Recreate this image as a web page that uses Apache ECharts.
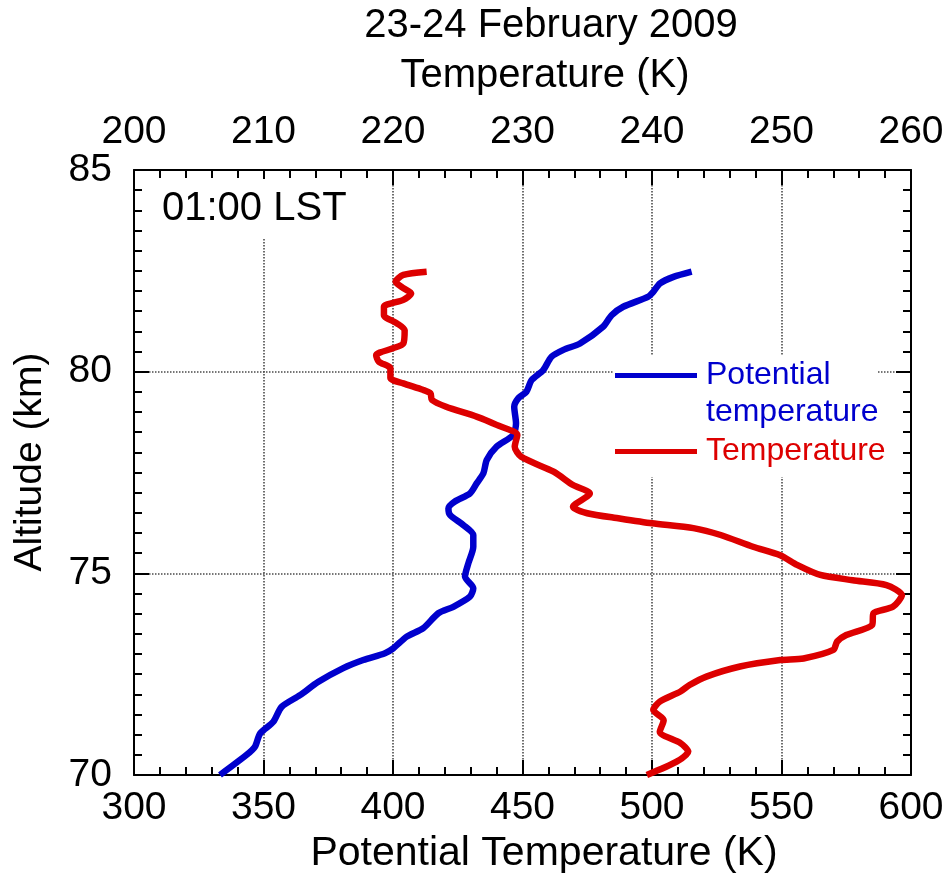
<!DOCTYPE html>
<html>
<head>
<meta charset="utf-8">
<script src="https://cdn.jsdelivr.net/npm/echarts@6/dist/echarts.min.js"></script>
<style>
  html, body { margin: 0; padding: 0; background: #fff; }
  #chart { width: 951px; height: 882px; }
</style>
</head>
<body>
<div id="chart"></div>
<script>
// Lidar profile, 23-24 February 2009, 01:00 LST
// Potential temperature (bottom axis, K) against altitude (km)
const ptAltitude = [70.0, 70.5, 70.7, 71.03, 71.32, 71.69, 71.98, 72.31, 72.65, 72.85,
  73.02, 73.14, 73.43, 73.64, 74.01, 74.17, 74.42, 74.63, 74.92, 75.25,
  75.66, 75.95, 76.20, 76.45, 76.61, 76.78, 76.98, 77.23, 77.48, 77.81,
  78.14, 78.43, 78.72, 79.13, 79.35, 79.50, 79.79, 80.04, 80.37, 80.54,
  80.70, 81.12, 81.40, 81.61, 81.86, 81.98, 82.19, 82.35, 82.48];
const ptValues = [333.2, 343.5, 346.7, 348.7, 353.8, 357.0, 364.1, 371.2, 380.8, 388.5,
  396.9, 400.1, 405.3, 411.7, 417.5, 423.3, 429.7, 431.0, 427.8, 429.1,
  431.0, 431.0, 427.1, 422.0, 421.4, 423.9, 429.7, 432.3, 434.9, 436.2,
  440.0, 446.4, 447.5, 446.8, 448.5, 451.5, 453.5, 458.0, 461.2, 465.8,
  472.2, 481.2, 484.4, 488.9, 498.6, 500.5, 503.1, 508.3, 515.3];

// Temperature (top axis, K) against altitude (km)
const tAltitude = [70.0, 70.33, 70.58, 70.79, 71.07, 71.36, 71.61, 71.82, 72.07, 72.23,
  72.44, 72.69, 72.85, 72.89, 73.10, 73.31, 73.47, 73.72, 74.01, 74.17,
  74.46, 74.71, 74.83, 74.96, 75.21, 75.45, 75.66, 75.95, 76.12, 76.24,
  76.36, 76.49, 76.65, 76.98, 77.19, 77.52, 77.89, 78.14, 78.43, 78.68,
  78.88, 79.13, 79.30, 79.46, 79.55, 79.71, 79.84, 80.08, 80.25, 80.41,
  80.58, 80.70, 81.03, 81.20, 81.40, 81.61, 81.78, 81.94, 82.07, 82.23,
  82.40, 82.48];
const tValues = [239.6, 241.9, 242.8, 242.2, 240.6, 240.9, 240.1, 240.6, 242.2, 242.9,
  244.2, 246.8, 249.9, 251.7, 254.0, 254.3, 255.0, 257.0, 257.1, 258.6,
  259.3, 258.1, 255.5, 253.0, 251.2, 249.9, 247.8, 245.3, 243.2, 240.0,
  237.5, 235.0, 233.9, 235.2, 233.9, 232.4, 229.9, 229.4, 229.6, 228.0,
  226.5, 224.1, 223.0, 222.9, 222.3, 220.8, 219.8, 219.8, 218.9, 218.7,
  220.0, 220.8, 220.9, 220.3, 219.3, 219.3, 220.8, 221.4, 220.8, 220.2,
  220.8, 222.6];

// Axis ranges and tick labels
const ptTicks = [300, 350, 400, 450, 500, 550, 600];
const tTicks = [200, 210, 220, 230, 240, 250, 260];
const altTicks = [70, 75, 80, 85];

const FONT = 'Liberation Sans, Arial, sans-serif';
const BLUE = '#0000cd';
const RED = '#dd0000';

const ptData = ptAltitude.map((a, i) => [ptValues[i], a]);
const tData = tAltitude.map((a, i) => [tValues[i], a]);

const frameLine = { show: true, onZero: false, lineStyle: { color: '#000', width: 2 } };
const majorTick = { show: true, inside: true, length: 15, lineStyle: { color: '#000', width: 2 } };
const minorTick = (n) => ({ show: true, splitNumber: n, length: 8, lineStyle: { color: '#000', width: 2 } });
const gridLine = { show: true, lineStyle: { color: '#4a4a4a', width: 1.6, type: [1.5, 1.5] } };
const labelStyle = { color: '#000', fontFamily: FONT, fontSize: 39 };

const chart = echarts.init(document.getElementById('chart'), null, { renderer: 'canvas' });

chart.setOption({
  animation: false,
  backgroundColor: '#fff',
  grid: { left: 134, right: 40, top: 170, bottom: 107, containLabel: false },
  xAxis: [
    {
      type: 'value', position: 'bottom',
      min: ptTicks[0], max: ptTicks[ptTicks.length - 1], interval: ptTicks[1] - ptTicks[0],
      axisLine: frameLine, axisTick: majorTick, minorTick: minorTick(5),
      splitLine: gridLine,
      axisLabel: Object.assign({ margin: 14 }, labelStyle),
      name: 'Potential Temperature (K)', nameLocation: 'middle', nameGap: 57,
      nameTextStyle: { color: '#000', fontFamily: FONT, fontSize: 41, padding: [0, 0, 0, 43] }
    },
    {
      type: 'value', position: 'top',
      min: tTicks[0], max: tTicks[tTicks.length - 1], interval: tTicks[1] - tTicks[0],
      axisLine: frameLine, axisTick: majorTick, minorTick: minorTick(5),
      splitLine: { show: false },
      axisLabel: Object.assign({ margin: 18 }, labelStyle),
      name: 'Temperature (K)', nameLocation: 'middle', nameGap: 74,
      nameTextStyle: { color: '#000', fontFamily: FONT, fontSize: 40, padding: [0, 0, 0, 45] }
    }
  ],
  yAxis: [
    {
      type: 'value', position: 'left',
      min: altTicks[0], max: altTicks[altTicks.length - 1], interval: altTicks[1] - altTicks[0],
      axisLine: frameLine, axisTick: majorTick, minorTick: minorTick(10),
      splitLine: gridLine,
      axisLabel: Object.assign({ margin: 22 }, labelStyle),
      name: 'Altitude (km)', nameLocation: 'middle', nameGap: 84,
      nameTextStyle: { color: '#000', fontFamily: FONT, fontSize: 39, padding: [0, 0, 0, 21] }
    },
    {
      type: 'value', position: 'right',
      min: altTicks[0], max: altTicks[altTicks.length - 1], interval: altTicks[1] - altTicks[0],
      axisLine: frameLine, axisTick: majorTick, minorTick: minorTick(10),
      splitLine: { show: false }, axisLabel: { show: false }
    }
  ],
  legend: [
    {
      // leading blank line keeps the icon level with the first text line
      data: ['Potential temperature'], left: 615, top: 320, padding: 0,
      icon: 'rect', itemWidth: 82, itemHeight: 5, selectedMode: false,
      formatter: () => '\nPotential\ntemperature',
      textStyle: { color: BLUE, fontFamily: FONT, fontSize: 32, lineHeight: 37, padding: [0, 0, 0, 4] }
    },
    {
      data: ['Temperature'], left: 615, top: 433, padding: 0,
      icon: 'rect', itemWidth: 82, itemHeight: 5, selectedMode: false,
      textStyle: { color: RED, fontFamily: FONT, fontSize: 32, lineHeight: 37, padding: [0, 0, 0, 4] }
    }
  ],
  graphic: [
    {
      type: 'text', z: 5, x: 551, y: 26,
      style: { text: '23-24 February 2009', align: 'center', verticalAlign: 'middle',
        font: '40px ' + FONT, fill: '#000' }
    },
    {
      type: 'rect', z: 1, silent: true,
      shape: { x: 613, y: 355, width: 265, height: 122 },
      style: { fill: '#fff' }
    },
    {
      type: 'text', z: 1, x: 156, y: 209,
      style: { text: '01:00 LST', align: 'left', verticalAlign: 'middle',
        font: '40px ' + FONT, fill: '#000', backgroundColor: '#fff', padding: [8, 6, 12, 6] }
    }
  ],
  series: [
    {
      name: 'Potential temperature', type: 'line', xAxisIndex: 0, yAxisIndex: 0,
      data: ptData, smooth: 0.25, showSymbol: false, symbol: 'none',
      lineStyle: { color: BLUE, width: 6.5 }, itemStyle: { color: BLUE }
    },
    {
      name: 'Temperature', type: 'line', xAxisIndex: 1, yAxisIndex: 0,
      data: tData, smooth: 0.25, showSymbol: false, symbol: 'none',
      lineStyle: { color: RED, width: 6.5 }, itemStyle: { color: RED }
    }
  ]
});
</script>
</body>
</html>
